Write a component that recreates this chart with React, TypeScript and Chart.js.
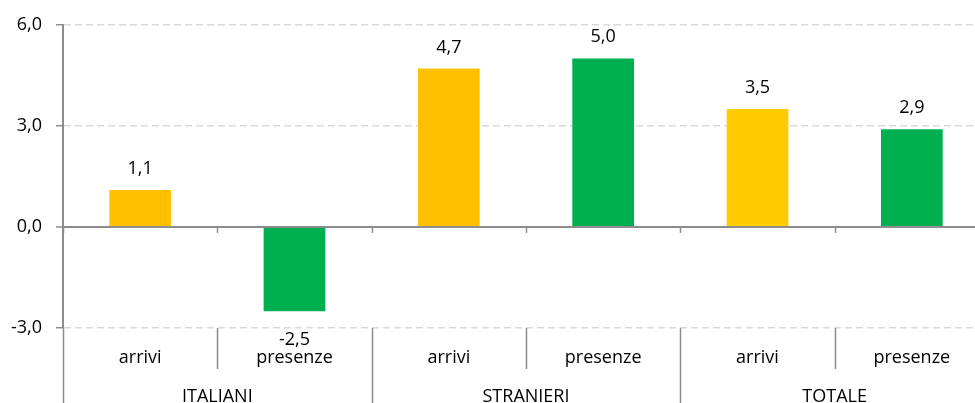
import { useEffect, useRef } from 'react';
import { Chart, registerables } from 'chart.js';

Chart.register(...registerables);

const categories = ['arrivi', 'presenze', 'arrivi', 'presenze', 'arrivi', 'presenze'];
const groups = ['ITALIANI', 'STRANIERI', 'TOTALE'];
const values = [1.1, -2.5, 4.7, 5.0, 3.5, 2.9];
const barColors = ['#FFC000', '#00B050', '#FFC000', '#00B050', '#FFCC00', '#00B050'];
const yMin = -3;
const yMax = 6;
const yStep = 3;

const FONT = '"Open Sans", "Noto Sans", sans-serif';
const FS = 18;
const AXIS = '#8C8C8C';
const GRID = '#D9D9D9';

const fmt = (v: number) => v.toFixed(1).replace('.', ',');

const overlay = {
  id: 'overlay',
  afterDraw(chart: any) {
    const { ctx, chartArea, scales } = chart;
    const x = scales.x;
    const y = scales.y;
    const meta = chart.getDatasetMeta(0);
    ctx.save();
    const zeroY = y.getPixelForValue(0);
    ctx.strokeStyle = AXIS;
    ctx.lineWidth = 2;
    ctx.beginPath();
    ctx.moveTo(chartArea.left, zeroY);
    ctx.lineTo(chartArea.right, zeroY);
    ctx.stroke();

    ctx.font = `${FS}px ${FONT}`;
    ctx.fillStyle = '#000';
    ctx.textAlign = 'center';
    ctx.textBaseline = 'alphabetic';
    meta.data.forEach((bar: any, i: number) => {
      const v = values[i];
      const p = bar.getProps(['x', 'y', 'base'], true);
      if (v >= 0) ctx.fillText(fmt(v), p.x, p.y - 16);
      else ctx.fillText(fmt(v), p.x, p.y + 34);
    });

    const step = x.getPixelForValue(1) - x.getPixelForValue(0);
    const start = x.getPixelForValue(0) - step / 2;
    const bottom = chartArea.bottom;
    ctx.lineWidth = 1.5;
    for (let i = 0; i <= categories.length; i++) {
      const px = Math.round(start + i * step) + 0.5;
      ctx.beginPath();
      ctx.moveTo(px, zeroY);
      ctx.lineTo(px, zeroY + 6);
      ctx.stroke();
      ctx.beginPath();
      ctx.moveTo(px, bottom);
      ctx.lineTo(px, i % 2 === 0 ? chart.height : bottom + 41);
      ctx.stroke();
    }
    groups.forEach((g, gi) => {
      const cx = start + (gi * 2 + 1) * step;
      ctx.fillText(g, cx, bottom + 74);
    });
    ctx.restore();
  },
};

export default function App() {
  const ref = useRef<HTMLCanvasElement | null>(null);
  useEffect(() => {
    if (!ref.current) return;
    const chart = new Chart(ref.current, {
      type: 'bar',
      data: {
        labels: categories,
        datasets: [
          {
            data: values,
            backgroundColor: barColors,
            borderWidth: 0,
            categoryPercentage: 1,
            barPercentage: 0.4,
          },
        ],
      },
      options: {
        animation: false,
        responsive: true,
        maintainAspectRatio: false,
        layout: { padding: { top: 24, left: 0, right: 0, bottom: 0 } },
        plugins: { legend: { display: false }, tooltip: { enabled: false } },
        scales: {
          x: {
            type: 'category',
            offset: true,
            grid: { display: false },
            border: { display: false },
            ticks: {
              color: '#000',
              font: { family: FONT, size: FS },
              padding: 11,
              maxRotation: 0,
              autoSkip: false,
            },
            afterFit: (s: any) => {
              s.height = 87;
            },
          },
          y: {
            min: yMin,
            max: yMax,
            grid: {
              color: (c: any) => (c.tick && c.tick.value === 0 ? AXIS : GRID),
              lineWidth: (c: any) => (c.tick && c.tick.value === 0 ? 2 : 1.5),
              tickColor: AXIS,
              tickLength: 7,
              tickWidth: 1.5,
            },
            border: {
              display: true,
              color: AXIS,
              width: 2,
              dash: (c: any) => (c.tick && c.tick.value === 0 ? [] : [7, 4]),
            },
            ticks: {
              stepSize: yStep,
              color: '#000',
              font: { family: FONT, size: FS },
              padding: 14,
              callback: (v: any) => fmt(Number(v)),
            },
            afterFit: (s: any) => {
              s.width = 63;
            },
          },
        },
      },
      plugins: [overlay],
    });
    return () => chart.destroy();
  }, []);

  return (
    <div style={{ position: 'fixed', left: 0, top: 0, width: 975, height: 403, overflow: 'hidden', background: '#fff' }}>
      <div style={{ position: 'relative', width: 989, height: 415 }}>
        <canvas ref={ref} />
      </div>
    </div>
  );
}
